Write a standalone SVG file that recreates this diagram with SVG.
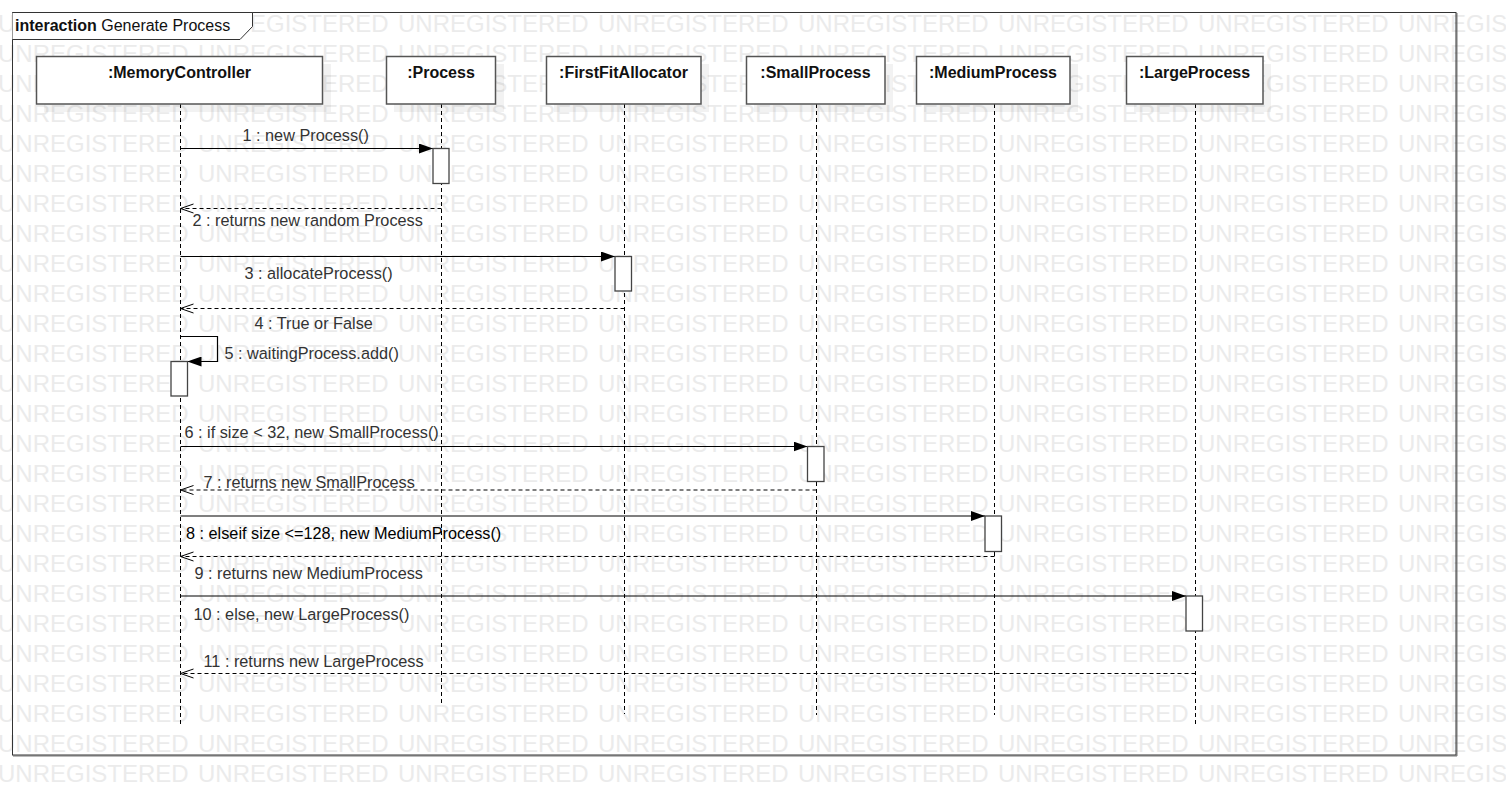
<svg xmlns="http://www.w3.org/2000/svg" width="1506" height="805" viewBox="0 0 1506 805">
<style>
.wm{font-family:"Liberation Sans",Arial,sans-serif;font-size:24px;fill:#ebebeb}
.hdr{font-family:"Liberation Sans",Arial,sans-serif;font-size:16px;font-weight:bold;fill:#111;text-anchor:middle}
.lbl{font-family:"Liberation Sans",Arial,sans-serif;font-size:16.25px;fill:#333}
.dark{fill:#000}
.box{fill:#fff;stroke:#555;stroke-width:1.5}
.act{fill:#fff;stroke:#444;stroke-width:1.3}
.shadow{fill:#000;opacity:0.05}
.life{stroke:#000;stroke-width:1;stroke-dasharray:4 3;fill:none}
.msg{stroke:#000;stroke-width:1.2;fill:none;marker-end:url(#filled)}
.ret{stroke:#000;stroke-width:1;stroke-dasharray:4 3;fill:none;marker-end:url(#open)}
</style>
<defs>
<marker id="filled" viewBox="0 0 14 10" refX="14" refY="5" markerWidth="14" markerHeight="10" markerUnits="userSpaceOnUse" orient="auto">
<path d="M0,0 L14,5 L0,10 z" fill="#000"/>
</marker>
<marker id="open" viewBox="0 0 15 11" refX="14" refY="5.5" markerWidth="15" markerHeight="11" markerUnits="userSpaceOnUse" orient="auto">
<path d="M1,1 L14,5.5 L1,10" fill="none" stroke="#000" stroke-width="1"/>
</marker>
<g id="wmrow">
<text class="wm" x="-2" y="0">UNREGISTERED</text>
<text class="wm" x="198" y="0">UNREGISTERED</text>
<text class="wm" x="398" y="0">UNREGISTERED</text>
<text class="wm" x="598" y="0">UNREGISTERED</text>
<text class="wm" x="798" y="0">UNREGISTERED</text>
<text class="wm" x="998" y="0">UNREGISTERED</text>
<text class="wm" x="1198" y="0">UNREGISTERED</text>
<text class="wm" x="1398" y="0">UNREGISTERED</text>
</g>
</defs>
<rect width="1506" height="805" fill="#fff"/>
<g id="watermark">
<use href="#wmrow" y="31.5"/><use href="#wmrow" y="61.5"/><use href="#wmrow" y="91.5"/><use href="#wmrow" y="121.5"/>
<use href="#wmrow" y="151.5"/><use href="#wmrow" y="181.5"/><use href="#wmrow" y="211.5"/><use href="#wmrow" y="241.5"/>
<use href="#wmrow" y="271.5"/><use href="#wmrow" y="301.5"/><use href="#wmrow" y="331.5"/><use href="#wmrow" y="361.5"/>
<use href="#wmrow" y="391.5"/><use href="#wmrow" y="421.5"/><use href="#wmrow" y="451.5"/><use href="#wmrow" y="481.5"/>
<use href="#wmrow" y="511.5"/><use href="#wmrow" y="541.5"/><use href="#wmrow" y="571.5"/><use href="#wmrow" y="601.5"/>
<use href="#wmrow" y="631.5"/><use href="#wmrow" y="661.5"/><use href="#wmrow" y="691.5"/><use href="#wmrow" y="721.5"/>
<use href="#wmrow" y="751.5"/><use href="#wmrow" y="781.5"/>
</g>
<g id="frame">
<line x1="13" y1="756" x2="1457" y2="756" stroke="#777" stroke-width="1"/>
<line x1="1457" y1="13" x2="1457" y2="756" stroke="#777" stroke-width="1"/>
<rect x="12.5" y="12.5" width="1443.5" height="742.5" fill="none" stroke="#333" stroke-width="1"/>
<path d="M12.5,12.5 H252.5 V26.5 L240,39.5 H12.5" fill="#fff" stroke="#333" stroke-width="1"/>
<text x="15" y="31" font-family="Liberation Sans, Arial, sans-serif" font-size="16" fill="#111"><tspan font-weight="bold">interaction</tspan> Generate Process</text>
</g>
<g id="lifelines">
<line class="life" x1="180.5" y1="104" x2="180.5" y2="724"/>
<line class="life" x1="441.5" y1="104" x2="441.5" y2="703"/>
<line class="life" x1="624.5" y1="104" x2="624.5" y2="714"/>
<line class="life" x1="816.5" y1="104" x2="816.5" y2="715"/>
<line class="life" x1="994.5" y1="104" x2="994.5" y2="715"/>
<line class="life" x1="1195.5" y1="104" x2="1195.5" y2="725"/>
</g>
<g id="MemoryController">
<rect class="shadow" x="44" y="64" width="287" height="48"/>
<rect class="box" x="36.5" y="56.5" width="286" height="47.5"/>
<text class="hdr" x="179.5" y="78">:MemoryController</text>
</g>
<g id="Process">
<rect class="shadow" x="394" y="64" width="110" height="48"/>
<rect class="box" x="386.5" y="56.5" width="109" height="47.5"/>
<text class="hdr" x="441" y="78">:Process</text>
</g>
<g id="FirstFitAllocator">
<rect class="shadow" x="554" y="64" width="155" height="48"/>
<rect class="box" x="546.5" y="56.5" width="154.5" height="47.5"/>
<text class="hdr" x="623.5" y="78">:FirstFitAllocator</text>
</g>
<g id="SmallProcess">
<rect class="shadow" x="754" y="64" width="139" height="48"/>
<rect class="box" x="746.5" y="56.5" width="138.5" height="47.5"/>
<text class="hdr" x="815.5" y="78">:SmallProcess</text>
</g>
<g id="MediumProcess">
<rect class="shadow" x="924" y="64" width="154" height="48"/>
<rect class="box" x="916.5" y="56.5" width="153.5" height="47.5"/>
<text class="hdr" x="993" y="78">:MediumProcess</text>
</g>
<g id="LargeProcess">
<rect class="shadow" x="1134" y="64" width="137" height="48"/>
<rect class="box" x="1126.5" y="56.5" width="136.5" height="47.5"/>
<text class="hdr" x="1194.5" y="78">:LargeProcess</text>
</g>
<g id="connectors">
<path class="msg" d="M180.5,148.5 H433"/>
<path class="ret" d="M441.5,208.5 H180.5"/>
<path class="msg" d="M180.5,256.5 H615"/>
<path class="ret" d="M624.5,308.5 H180.5"/>
<path class="msg" d="M180.5,336.5 H217.5 V361.5 H187.5"/>
<path class="msg" d="M180.5,446.5 H807.5"/>
<path class="ret" d="M816.5,490 H180.5"/>
<path class="msg" d="M180.5,516 H985"/>
<path class="ret" d="M994.5,556.5 H180.5"/>
<path class="msg" d="M180.5,596 H1186"/>
<path class="ret" d="M1195.5,673.5 H180.5"/>
</g>
<g id="activations">
<rect class="act" x="433" y="148.5" width="16" height="35"/>
<rect class="act" x="615" y="256.5" width="16.5" height="34.5"/>
<rect class="act" x="171" y="361.5" width="16.5" height="34.5"/>
<rect class="act" x="807.5" y="446.5" width="16.5" height="35"/>
<rect class="act" x="985" y="516" width="16.5" height="35.5"/>
<rect class="act" x="1186" y="596" width="16.5" height="35"/>
</g>
<g id="labels">
<text class="lbl" x="242.5" y="141">1 : new Process()</text>
<text class="lbl" x="192.5" y="226">2 : returns new random Process</text>
<text class="lbl" x="244.5" y="279">3 : allocateProcess()</text>
<text class="lbl" x="254.5" y="328.5">4 : True or False</text>
<text class="lbl" x="224.5" y="359">5 : waitingProcess.add()</text>
<text class="lbl" x="184.5" y="438">6 : if size &lt; 32, new SmallProcess()</text>
<text class="lbl" x="203.5" y="488">7 : returns new SmallProcess</text>
<text class="lbl dark" x="186" y="539">8 : elseif size &lt;=128, new MediumProcess()</text>
<text class="lbl" x="194.5" y="579">9 : returns new MediumProcess</text>
<text class="lbl" x="193.5" y="620">10 : else, new LargeProcess()</text>
<text class="lbl" x="203.5" y="667">11 : returns new LargeProcess</text>
</g>
</svg>
